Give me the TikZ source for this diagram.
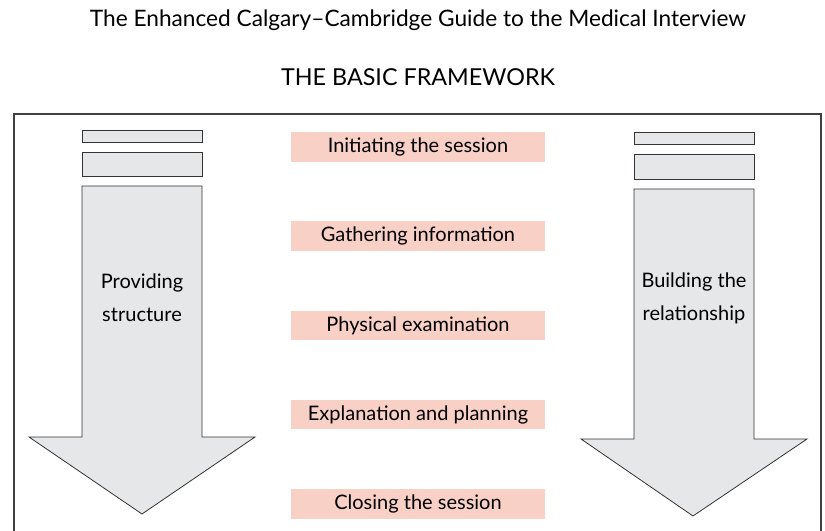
\documentclass[tikz,border=0pt]{standalone}
\usepackage{fontspec}
\setmainfont{Lato}
\usepackage{xcolor}
\usepackage{tikz}
\usetikzlibrary{positioning}
\definecolor{stagepink}{HTML}{F8D0C6}
\definecolor{arrowgrey}{HTML}{E6E7E8}

\begin{document}
\begin{tikzpicture}[
  x=0.75pt, y=-0.75pt,
  node distance=44.4pt,
  stage/.style={fill=stagepink, minimum width=190.5pt, minimum height=22.1pt, inner sep=0pt, font=\fontsize{15}{17}\selectfont},
  bar/.style={draw=black!80, fill=arrowgrey, line width=0.6pt},
  tag/.style={align=center, font=\fontsize{15}{24.75}\selectfont},
  heading/.style={anchor=base, font=\fontsize{17}{20}\selectfont},
  frame/.style={draw=black!75, line width=0.9pt}
]
\useasboundingbox (0,0) rectangle (825,531);
\node[heading] (title) at (418,27) {The Enhanced Calgary--Cambridge Guide to the Medical Interview};
\node[heading, font=\fontsize{17.5}{20}\selectfont] (sub) at (418,86) {THE BASIC FRAMEWORK};
\draw[frame] (14,531) |- (821,114) -- (821,531);
\draw[bar] (82,130) rectangle (202,142);
\draw[bar] (82,152) rectangle (202,176);
\draw[bar] (82,186) -- (202,186) -- (202,437) -- (255,437) -- (142,514) -- (29,437) -- (82,437) -- cycle;
\draw[bar] (634,132) rectangle (754,144);
\draw[bar] (634,154) rectangle (754,179);
\draw[bar] (634,189) -- (754,189) -- (754,439) -- (807,439) -- (693,516) -- (581,439) -- (634,439) -- cycle;
\node[tag] (left) at (142,298) {Providing\\structure};
\node[tag] (right) at (694,298) {Building the\\relationship};
\node[stage] (init) at (418,147) {Initiating the session};
\node[stage, below=of init] (gather) {Gathering information};
\node[stage, below=of gather] (exam) {Physical examination};
\node[stage, below=of exam] (explain) {Explanation and planning};
\node[stage, below=of explain] (close) {Closing the session};
\end{tikzpicture}
\end{document}
